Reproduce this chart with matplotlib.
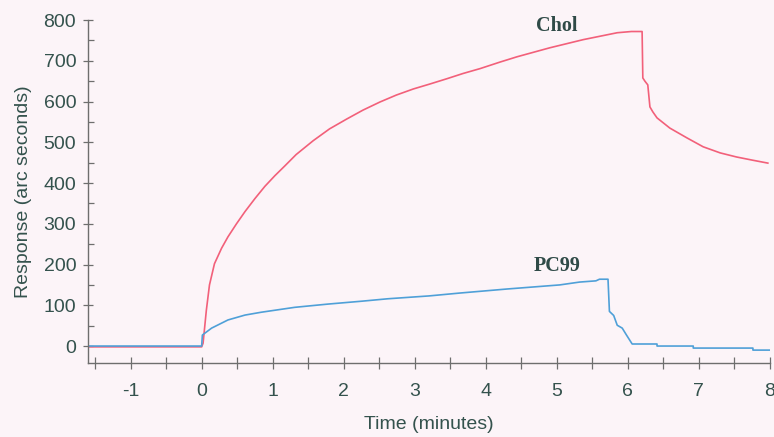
import numpy as np
import matplotlib
matplotlib.use("Agg")
import matplotlib.pyplot as plt
from matplotlib.ticker import MultipleLocator

# Sensorgram traces (time in minutes, response in arc seconds)
chol_t = [-1.6, -0.15, 0.0, 0.02, 0.066, 0.11, 0.18, 0.28, 0.37, 0.49, 0.61,
          0.75, 0.89, 1.03, 1.17, 1.33, 1.57, 1.8, 2.04, 2.27, 2.51, 2.74,
          2.98, 3.21, 3.45, 3.68, 3.92, 4.2, 4.44, 4.9, 5.37, 5.85, 6.05, 6.2,
          6.21, 6.24, 6.28, 6.31, 6.35, 6.41, 6.59, 6.83, 7.06, 7.3, 7.53,
          7.76, 7.97]
chol_v = [-2, -2, -2, 7, 88, 150, 202, 240, 268, 300, 330,
          362, 392, 418, 442, 470, 504, 533, 557, 579, 599, 616,
          631, 643, 656, 669, 681, 697, 710, 732, 752, 769, 772, 772,
          658, 650, 641, 587, 575, 560, 535, 511, 489, 474, 464,
          456, 449]

pc99_t = [-1.6, 0.0, 0.01, 0.14, 0.37, 0.61, 0.84, 1.31, 1.78, 2.25, 2.62,
          3.2, 3.63, 4.3, 5.04, 5.32, 5.55, 5.6, 5.72, 5.74, 5.8, 5.85, 5.92,
          5.98, 6.06, 6.41, 6.41, 6.92, 6.92, 7.76, 7.76, 8.0]
pc99_v = [0, 0, 27, 44, 64, 76, 83, 95, 103, 110, 116,
          123, 130, 140, 150, 157, 160, 164, 164, 85, 75, 51, 44,
          27, 5, 5, 0, 0, -5, -5, -10, -10]

x_ticks = list(range(-1, 9))
y_ticks = list(range(0, 801, 100))

label_color = "#34524d"
axis_color = "#6e6e6e"
bg = "#fcf4f8"

plt.rcParams["font.family"] = ["Liberation Sans", "DejaVu Sans"]
plt.rcParams["axes.unicode_minus"] = False

fig = plt.figure(figsize=(7.74, 4.37), dpi=100, facecolor=bg)
ax = fig.add_axes([0.1137, 0.169, 0.8811, 0.785], facecolor=bg)

ax.plot(chol_t, chol_v, color="#f2607a", lw=1.2)
ax.plot(pc99_t, pc99_v, color="#4fa0d8", lw=1.2)

serif = ["Liberation Serif", "DejaVu Serif"]
ax.text(5.0, 786, "Chol", family=serif, fontweight="bold", fontsize=14.5,
        color="#2f4a47", ha="center", va="center")
ax.text(5.0, 197, "PC99", family=serif, fontweight="bold", fontsize=14.5,
        color="#2f4a47", ha="center", va="center")

ax.set_xlim(-1.6, 8)
ax.set_ylim(-42, 800)

for s in ["top", "right"]:
    ax.spines[s].set_visible(False)
for s in ["left", "bottom"]:
    ax.spines[s].set_color(axis_color)
    ax.spines[s].set_linewidth(1.0)

ax.set_xticks(x_ticks)
ax.xaxis.set_minor_locator(MultipleLocator(0.5))
ax.set_yticks(y_ticks)
ax.yaxis.set_minor_locator(MultipleLocator(50))

ax.tick_params(axis="x", which="both", direction="inout", length=9, width=0.9,
               color=axis_color, labelcolor=label_color, labelsize=14, pad=10)
ax.tick_params(axis="y", which="major", direction="inout", length=7, width=0.9,
               color=axis_color, labelcolor=label_color, labelsize=14, pad=5)
ax.tick_params(axis="y", which="minor", direction="in", length=4, width=0.9,
               color=axis_color)

ax.set_xlabel("Time (minutes)", fontsize=14, color=label_color, labelpad=11)
ax.set_ylabel("Response (arc seconds)", fontsize=14, color=label_color, labelpad=8)

fig.savefig("out.png", dpi=100, facecolor=bg)
